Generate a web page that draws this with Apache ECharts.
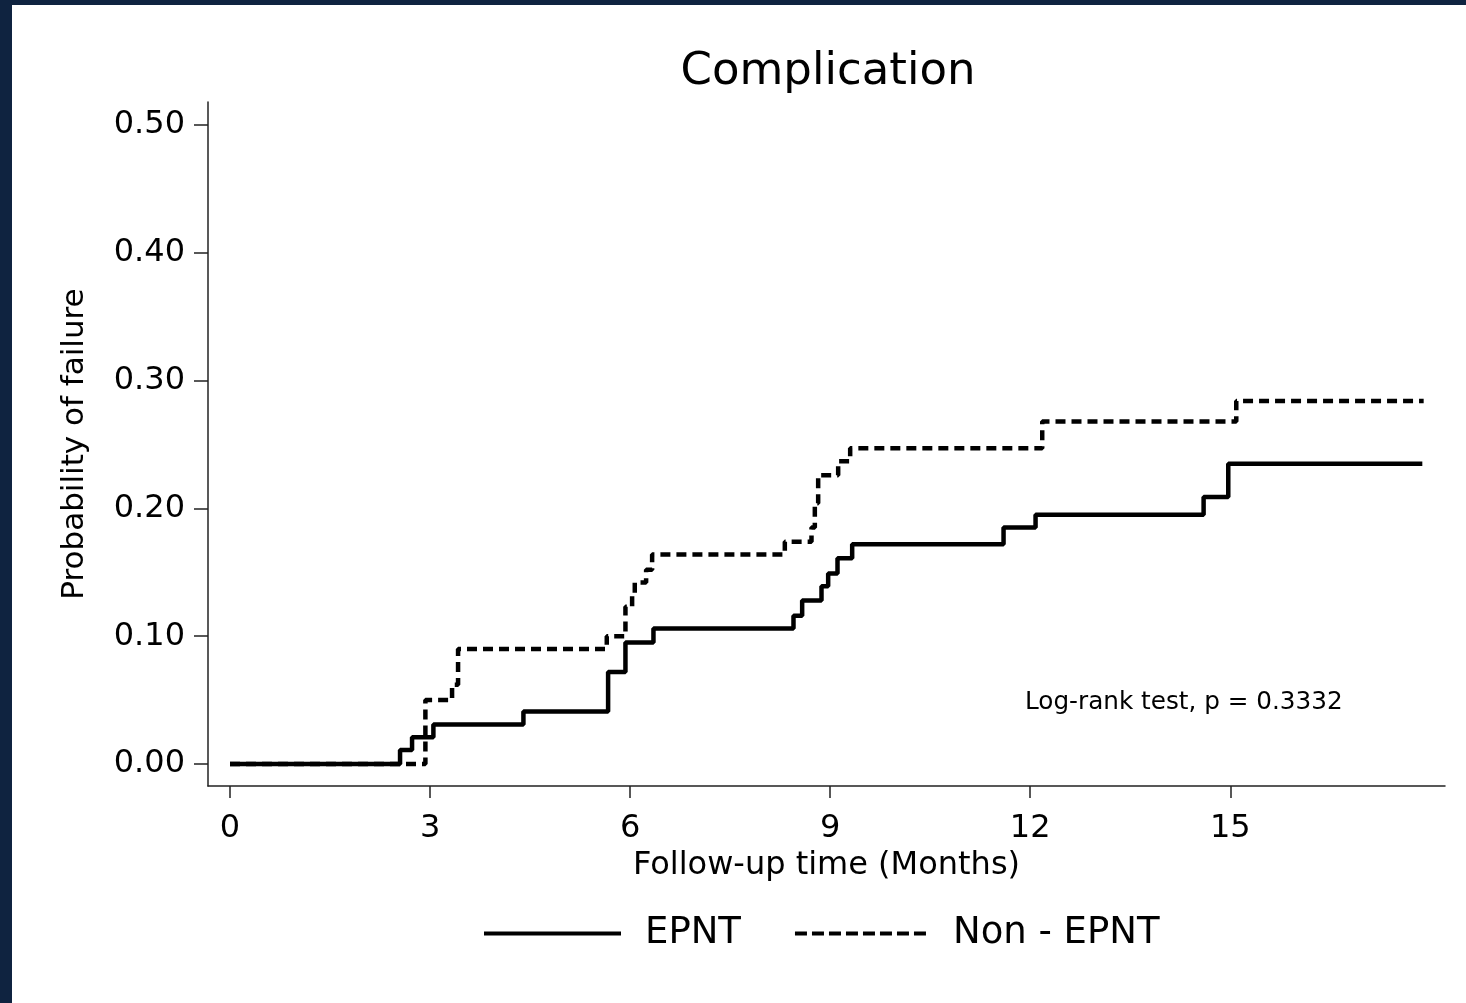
<!DOCTYPE html>
<html>
<head>
<meta charset="utf-8">
<script src="https://cdn.jsdelivr.net/npm/echarts@6/dist/echarts.min.js"></script>
<style>
html, body { margin: 0; padding: 0; background: #0f2340; }
#chart { position: absolute; left: 12px; top: 5px; width: 1454px; height: 998px; background: #fff; }
</style>
</head>
<body>
<div id="chart"></div>
<script>
// 数据
const epntTime = [0, 2.55, 2.73, 3.05, 4.40, 5.67, 5.93, 6.35, 8.45, 8.58, 8.87, 8.97, 9.11, 9.33, 11.60, 12.08, 14.60, 14.97, 17.88];
const epntProb = [0, 0.011, 0.021, 0.031, 0.041, 0.072, 0.095, 0.106, 0.116, 0.128, 0.139, 0.149, 0.161, 0.172, 0.185, 0.195, 0.209, 0.235, 0.235];

const nonTime = [0, 2.93, 3.33, 3.42, 5.65, 5.93, 6.03, 6.07, 6.24, 6.33, 8.32, 8.72, 8.77, 8.82, 9.12, 9.30, 12.18, 15.09, 17.90];
const nonProb = [0, 0.050, 0.062, 0.090, 0.100, 0.123, 0.132, 0.142, 0.152, 0.164, 0.174, 0.185, 0.204, 0.226, 0.237, 0.247, 0.268, 0.284, 0.284];

const seriesNames = ['EPNT', 'Non - EPNT'];
const xTicks = [0, 3, 6, 9, 12, 15];
const yTicks = [0, 0.1, 0.2, 0.3, 0.4, 0.5];
const titleText = 'Complication';
const xName = 'Follow-up time (Months)';
const yName = 'Probability of failure';
const noteText = 'Log-rank test, p = 0.3332';

function toPoints(t, v) {
    return t.map(function (x, i) { return [x, v[i]]; });
}

// 图例里的虚线图标
function dashIcon(n, dash, gap) {
    let p = 'path://';
    for (let i = 0; i < n; i++) {
        let x = i * (dash + gap);
        p += 'M' + x + ',0h' + dash + 'v4h-' + dash + 'z';
    }
    return p;
}

const font = 'DejaVu Sans';
const axisColor = '#222';

let chart = echarts.init(document.getElementById('chart'));

let option = {
    animation: false,
    backgroundColor: '#fff',
    title: {
        text: titleText,
        left: 811,
        top: 40,
        textAlign: 'center',
        textStyle: { fontFamily: font, fontSize: 45, fontWeight: 'normal', color: '#000' }
    },
    legend: {
        data: [
            { name: seriesNames[0], icon: 'rect' },
            { name: seriesNames[1], icon: dashIcon(8, 12, 5) }
        ],
        left: 467,
        top: 905,
        itemWidth: 137,
        itemHeight: 4,
        itemGap: 54,
        itemStyle: { color: '#000' },
        textStyle: { fontFamily: font, fontSize: 37, color: '#000', padding: [0, 0, 0, 19] }
    },
    grid: { left: 196, top: 97, right: 21, bottom: 217 },
    xAxis: {
        type: 'value',
        min: -0.33,
        max: 18.22,
        name: xName,
        nameLocation: 'middle',
        nameGap: 50,
        nameTextStyle: { fontFamily: font, fontSize: 32, color: '#000' },
        axisLine: { onZero: false, lineStyle: { color: axisColor, width: 1.5 } },
        axisTick: { show: true, length: 12, customValues: xTicks, lineStyle: { color: axisColor, width: 1.5 } },
        axisLabel: { customValues: xTicks, margin: 27, fontFamily: font, fontSize: 32, color: '#000' },
        splitLine: { show: false }
    },
    yAxis: {
        type: 'value',
        min: -0.0172,
        max: 0.518,
        name: yName,
        nameLocation: 'middle',
        nameGap: 118,
        nameTextStyle: { fontFamily: font, fontSize: 31, color: '#000' },
        axisLine: { show: true, onZero: false, lineStyle: { color: axisColor, width: 1.5 } },
        axisTick: { show: true, length: 14, customValues: yTicks, lineStyle: { color: axisColor, width: 1.5 } },
        axisLabel: {
            customValues: yTicks,
            margin: 23,
            fontFamily: font,
            fontSize: 32,
            color: '#000',
            formatter: function (v) { return v.toFixed(2); }
        },
        splitLine: { show: false }
    },
    graphic: [{
        type: 'text',
        left: 1013,
        top: 685,
        style: { text: noteText, fontFamily: font, fontSize: 24.7, fill: '#000' }
    }],
    series: [
        {
            name: seriesNames[0],
            type: 'line',
            step: 'end',
            symbol: 'none',
            color: '#000',
            lineStyle: { color: '#000', width: 4.5, type: 'solid' },
            data: toPoints(epntTime, epntProb)
        },
        {
            name: seriesNames[1],
            type: 'line',
            step: 'end',
            symbol: 'none',
            color: '#000',
            lineStyle: { color: '#000', width: 4.5, type: [10, 6] },
            data: toPoints(nonTime, nonProb)
        }
    ]
};

chart.setOption(option);
</script>
</body>
</html>
